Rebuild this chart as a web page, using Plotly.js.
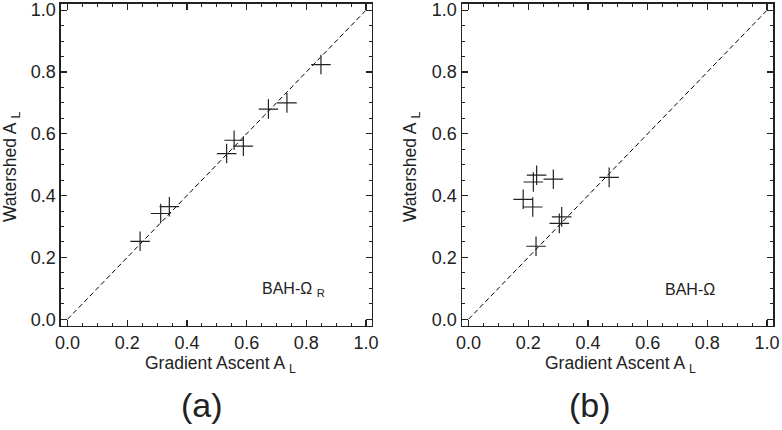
<!DOCTYPE html>
<html>
<head>
<meta charset="utf-8">
<script src="https://cdn.plot.ly/plotly-3.0.1.min.js"></script>
<style>
  html, body { margin: 0; padding: 0; background: #fff; }
  #graphContainer { width: 782px; height: 430px; }
</style>
</head>
<body>
<div id="graphContainer"></div>
<script>
// panel (a): BAH-Omega_R
let gradientA = [0.243, 0.312, 0.341, 0.533, 0.558, 0.589, 0.673, 0.735, 0.849];
let watershedA = [0.252, 0.342, 0.364, 0.536, 0.579, 0.560, 0.680, 0.700, 0.824];

// panel (b): BAH-Omega
let gradientB = [0.183, 0.215, 0.217, 0.228, 0.284, 0.304, 0.312, 0.226, 0.471];
let watershedB = [0.388, 0.363, 0.444, 0.466, 0.453, 0.310, 0.331, 0.236, 0.459];

// y = x reference line
let diagonal = [0, 1];

let tickValues = [0, 0.2, 0.4, 0.6, 0.8, 1.0];
let tickLabels = ["0.0", "0.2", "0.4", "0.6", "0.8", "1.0"];

const ink = "#222";
const font = "Arial, 'Liberation Sans', sans-serif";

function scatterTrace(x, y, xa, ya) {
    return {
        x: x, y: y, xaxis: xa, yaxis: ya,
        mode: "markers", type: "scatter",
        marker: {symbol: "cross-thin", size: 14, line: {width: 1.2, color: ink}},
        hoverinfo: "skip"
    };
}

function diagonalTrace(xa, ya) {
    return {
        x: diagonal, y: diagonal, xaxis: xa, yaxis: ya,
        mode: "lines", type: "scatter",
        line: {color: "#000", width: 1, dash: "5px,3px"},
        hoverinfo: "skip"
    };
}

function axisStyle(domain, anchor) {
    return {
        domain: domain, anchor: anchor,
        range: [-0.022, 1.02],
        tickvals: tickValues, ticktext: tickLabels,
        ticks: "inside", ticklen: 6, tickwidth: 1.2, tickcolor: ink,
        minor: {ticks: "inside", dtick: 0.05, tick0: 0, ticklen: 3, tickwidth: 1, tickcolor: ink, showgrid: false},
        showline: true, linecolor: ink, linewidth: 1.5, mirror: "allticks",
        showgrid: false, zeroline: false,
        tickfont: {family: font, size: 18, color: ink},
        fixedrange: true
    };
}

let graphData = [
    diagonalTrace("x", "y"),
    scatterTrace(gradientA, watershedA, "x", "y"),
    diagonalTrace("x2", "y2"),
    scatterTrace(gradientB, watershedB, "x2", "y2")
];

const yDomain = [0.2419, 0.9907];

function textNote(text, x, y, xref, yref, size, extra) {
    return Object.assign({
        text: text, x: x, y: y, xref: xref, yref: yref,
        xanchor: "center", yanchor: "middle",
        showarrow: false, font: {family: font, size: size, color: ink}
    }, extra || {});
}

let graphLayout = {
    width: 782, height: 430,
    margin: {l: 0, r: 0, t: 0, b: 0},
    paper_bgcolor: "#fff", plot_bgcolor: "#fff",
    showlegend: false,
    xaxis: axisStyle([0.078, 0.4757], "y"),
    yaxis: axisStyle(yDomain, "x"),
    xaxis2: axisStyle([0.5908, 0.9885], "y2"),
    yaxis2: axisStyle(yDomain, "x2"),
    annotations: [
        textNote("BAH-Ω <sub>R</sub>", 0.757, 0.097, "x", "y", 16),
        textNote("BAH-Ω", 0.741, 0.097, "x2", "y2", 16),
        textNote("Gradient Ascent A <sub>L</sub>", 220 / 782, 1 - 364 / 430, "paper", "paper", 17.5),
        textNote("Gradient Ascent A <sub>L</sub>", 620 / 782, 1 - 364 / 430, "paper", "paper", 17.5),
        textNote("Watershed A <sub>L</sub>", 11 / 782, 1 - 167 / 430, "paper", "paper", 17.5, {textangle: -90}),
        textNote("Watershed A <sub>L</sub>", 411 / 782, 1 - 167 / 430, "paper", "paper", 17.5, {textangle: -90}),
        textNote("(a)", 202 / 782, 1 - 405 / 430, "paper", "paper", 34),
        textNote("(b)", 590 / 782, 1 - 405 / 430, "paper", "paper", 34)
    ]
};

Plotly.newPlot("graphContainer", graphData, graphLayout, {displayModeBar: false, staticPlot: true});
</script>
</body>
</html>
